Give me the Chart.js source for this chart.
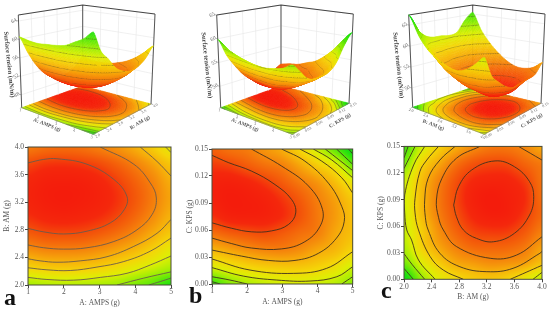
<!DOCTYPE html>
<html>
<head>
<meta charset="utf-8">
<title>Surface tension response surfaces</title>
<script src="https://cdn.jsdelivr.net/npm/chart.js@4"></script>
<style>
html,body{margin:0;padding:0;background:#fff;width:550px;height:312px;overflow:hidden}
canvas{position:absolute;filter:blur(0.3px)}
</style>
</head>
<body>
<script>
// ---------- axis tick values ----------
const ampsTicks = [1, 2, 3, 4, 5];
const amTicks = [2.0, 2.4, 2.8, 3.2, 3.6, 4.0];
const kpsTicks = [0.00, 0.03, 0.06, 0.09, 0.12, 0.15];

// ---------- surface tension (rows: second factor low to high, cols: first factor low to high) ----------
const surfaceAB = [
 [60.6,60.2,60.0,60.2,60.4,60.8,61.8,62.8,64.4],
 [56.8,56.3,56.1,56.2,56.6,57.4,58.4,59.4,60.4],
 [53.6,53.1,53.0,53.1,53.6,54.4,55.4,56.8,58.4],
 [51.3,50.8,50.7,50.8,51.3,52.1,53.2,54.7,56.2],
 [49.9,49.4,49.2,49.4,49.8,50.6,51.8,53.3,55.0],
 [49.3,48.8,48.6,48.8,49.2,50.0,51.2,52.7,54.4],
 [49.5,49.0,48.9,49.0,49.5,50.4,51.6,53.0,54.8],
 [50.6,50.1,50.0,50.2,50.7,51.6,52.8,54.3,56.0],
 [52.6,52.1,52.0,52.2,52.8,53.6,54.8,56.4,58.2]];
const surfaceAC = [
 [59.9,58.3,57.4,56.8,56.4,56.3,56.6,57.1,58.1],
 [56.2,55.5,54.8,54.4,54.2,54.2,54.6,55.3,56.5],
 [53.5,52.9,52.3,51.9,51.8,52.2,53.0,53.6,54.7],
 [51.2,50.7,50.4,50.2,50.6,51.2,51.7,53.0,53.9],
 [49.6,49.0,48.9,49.0,49.5,50.4,51.5,52.6,53.9],
 [48.9,48.6,48.7,49.0,49.7,50.6,51.7,52.8,54.2],
 [49.0,48.9,49.2,49.8,50.6,51.5,52.4,53.8,55.6],
 [49.8,50.0,50.6,51.2,51.7,52.9,54.3,55.7,58.7],
 [50.8,51.3,51.6,52.4,53.2,54.7,56.6,59.0,61.0]];
const surfaceBC = [
 [67.5,62.8,59.9,58.4,57.4,57.0,57.7,59.3,61.2],
 [63.7,60.1,57.5,55.5,54.8,54.2,54.4,55.0,56.8],
 [61.7,57.9,55.3,53.5,52.4,52.2,52.3,53.1,54.9],
 [61.0,57.6,54.3,52.2,50.9,50.5,50.6,51.6,53.3],
 [60.9,56.6,53.5,51.5,49.9,49.1,49.3,50.6,52.4],
 [60.6,56.5,53.3,51.2,49.5,48.9,49.3,50.2,52.7],
 [61.0,56.8,53.8,51.6,50.2,49.8,49.9,50.9,52.9],
 [63.7,58.4,55.6,53.1,51.7,51.2,51.3,52.4,53.3],
 [65.5,60.9,57.9,55.7,54.1,53.2,53.2,53.9,55.5]];

// ---------- contour levels ----------
const levelsAB = [50.8,52.8,54.8,56.8,58.8,60.8,62.8];
const levelsAC = [50.2,51.7,53.2,54.7,56.2,57.7,59.1,60.7];
const levelsBC = [51.3,53.5,55.7,57.9,60.1,62.3,64.5];

// ---------- contour lines ----------
const contoursAB = [
 [[1,3.77],[1.44,3.82],[1.81,3.83],[2.65,3.75],[3.40,3.53],[3.77,3.28],[3.69,3.09],[3.30,2.90],[2.65,2.78],[2.00,2.74],[1.44,2.77],[1,2.82]],
 [[3.02,4],[3.96,3.75],[4.42,3.48],[4.59,3.26],[4.47,3.02],[4.05,2.80],[3.40,2.63],[2.65,2.54],[2.00,2.52],[1.44,2.54],[1,2.58]],
 [[4.14,4],[4.61,3.79],[5,3.58]],
 [[5,2.95],[4.61,2.75],[3.96,2.56],[3.21,2.41],[2.46,2.35],[1.81,2.33],[1.34,2.35],[1,2.38]],
 [[4.85,4],[5,3.92]],
 [[5,2.68],[4.42,2.49],[3.68,2.34],[2.93,2.26],[2.18,2.21],[1.53,2.22],[1,2.25]],
 [[5,2.42],[4.42,2.29],[3.77,2.17],[3.02,2.11],[2.28,2.07],[1.53,2.08],[1,2.11]],
 [[5,2.19],[4.24,2.10],[3.49,2.0]],
 [[5,2.10],[4.70,2.05],[4.38,2.0]]];
const contoursAC = [
 [[1,.143],[1.46,.135],[2.12,.1255],[2.79,.1105],[3.26,.094],[3.38,.079],[3.17,.066],[2.69,.059],[2.12,.058],[1.55,.062],[1,.068]],
 [[2.12,.15],[2.98,.131],[3.74,.109],[4.14,.083],[4.07,.064],[3.64,.047],[2.98,.039],[2.12,.040],[1.55,.045],[1,.051]],
 [[2.98,.15],[3.64,.1365],[4.31,.112],[4.69,.086],[4.76,.0696],[4.54,.051],[4.02,.034],[3.36,.0262],[2.6,.0262],[1.84,.031],[1,.0377]],
 [[3.5,.15],[4.12,.1365],[4.69,.118],[5,.101]],
 [[5,.0359],[4.26,.0174],[3.31,.0118],[2.08,.0155],[1,.0278]],
 [[3.88,.15],[4.4,.138],[5,.118]],
 [[5,.0192],[4.55,.0081],[3.79,.0033],[2.84,.0044],[1.89,.0088],[1,.0182]],
 [[4.22,.15],[5,.126]],
 [[1,.0081],[1.51,.0044],[2.0,0]],
 [[4.69,0],[5,.0081]],
 [[4.54,.15],[5,.133]],
 [[1,.0026],[1.23,0]],
 [[4.88,.15],[5,.1445]]];
const contoursBC = [
 [[2.72,.0838],[2.79,.1045],[2.98,.1233],[3.32,.1336],[3.6,.1271],[3.82,.1102],[3.88,.0932],[3.82,.0726],[3.6,.0519],[3.3,.0424],[3.05,.0462],[2.86,.0557],[2.76,.0707],[2.72,.0838]],
 [[3.10,.15],[2.76,.1366],[2.55,.114],[2.47,.0894],[2.50,.07],[2.57,.0557],[2.76,.037],[3.25,.0237],[3.63,.0273],[4,.048]],
 [[3.66,.15],[4,.1346]],
 [[2.74,.15],[2.52,.1346],[2.35,.114],[2.30,.0894],[2.31,.07],[2.35,.0557],[2.52,.0294],[2.81,.0142],[3.20,.0086],[3.58,.0124],[3.97,.0294],[4,.0315]],
 [[2.50,.15],[2.33,.1346],[2.23,.1215],[2.16,.0914],[2.16,.075],[2.21,.0557],[2.38,.0255],[2.57,.0104],[2.86,0]],
 [[3.54,0],[4,.0158]],
 [[2.30,.15],[2.14,.129],[2.01,.0953],[2.01,.075],[2.04,.0557],[2.11,.0444],[2.21,.0218],[2.45,0]],
 [[3.87,0],[4,.0078]],
 [[2,.125],[2.16,.15]],
 [[2,.029],[2.12,.0165],[2.30,0]],
 [[2,.137],[2.06,.15]],
 [[2,.0123],[2.135,0]]];

// ---------- colour ramp of the surface (fraction of the range) ----------
const rampStops = [[0,244,28,12],[.07,244,40,12],[.1375,243,78,10],[.2625,245,128,11],[.3875,246,174,10],[.5125,245,212,8],[.6375,222,238,4],[.7625,160,238,4],[.8875,88,232,8],[1,24,224,16]];

function ramp(t){
  t=Math.max(0,Math.min(1,t));
  for(let i=1;i<rampStops.length;i++){
    if(t<=rampStops[i][0]){
      const a=rampStops[i-1],b=rampStops[i],f=(t-a[0])/(b[0]-a[0]);
      return [a[1]+(b[1]-a[1])*f,a[2]+(b[2]-a[2])*f,a[3]+(b[3]-a[3])*f];
    }
  }
  const l=rampStops[rampStops.length-1];return [l[1],l[2],l[3]];
}
// smooth reading of the typed grid for display (u,w in 0..1)
function cr(p0,p1,p2,p3,t){return .5*(2*p1+(p2-p0)*t+(2*p0-5*p1+4*p2-p3)*t*t+(3*p1-p0-3*p2+p3)*t*t*t);}
function sample(grid,u,w){
  const n=grid[0].length-1,m=grid.length-1;
  const fx=Math.max(0,Math.min(n-1e-6,u*n)),fy=Math.max(0,Math.min(m-1e-6,w*m));
  const i=Math.floor(fx),j=Math.floor(fy),tx=fx-i,ty=fy-j;
  const row=r=>{const g=grid[Math.max(0,Math.min(m,r))],c=k=>g[Math.max(0,Math.min(n,k))];
    return cr(c(i-1),c(i),c(i+1),c(i+2),tx);};
  return cr(row(j-1),row(j),row(j+1),row(j+2),ty);
}

const SERIF='"Liberation Serif","DejaVu Serif",serif';

// ---------- panel descriptions ----------
const panels=[
 {letter:'a',xName:'A: AMPS (g)',yName:'B: AM (g)',xT:ampsTicks,yT:amTicks,xDec:0,yDec:1,grid:surfaceAB,levels:levelsAB,contours:contoursAB,low:48.6,span:16,lineCol:'#6a5a4c',
  box:{left:0,top:140,w:185,h:172,axisW:28,padR:14,padT:7,axisH:27,yPad:3,xPad:4.5},
  lab:{x:4,y:305},
  view:{left:0,w:185,L:[21.7,107.7],F:[93.3,134.3],R:[151,104],K:[82.7,86],Lt:[18.3,15],Ft:[93.3,27],Rt:[155,14],Kt:[82.7,5],
        zMin:45.2,zMax:65.3,zT:[48,52,56,60,64],zDec:0,uLab:[47,125],wLab:[140,122.7],zLab:[9,64.5]}},
 {letter:'b',xName:'A: AMPS (g)',yName:'C: KPS (g)',xT:ampsTicks,yT:kpsTicks,xDec:0,yDec:2,grid:surfaceAC,levels:levelsAC,contours:contoursAC,low:48.6,span:11.9,lineCol:'#40301e',
  box:{left:185,top:140,w:180,h:172,axisW:27,padR:12.3,padT:9,axisH:28,yPad:1,xPad:5.5},
  lab:{x:189,y:303},
  view:{left:185,w:180,L:[220.7,107.7],F:[292.3,134.3],R:[349,103.3],K:[281,86],Lt:[216.7,15],Ft:[292.3,27],Rt:[353.3,14],Kt:[281,5],
        zMin:45.5,zMax:65,zT:[50,55,60,65],zDec:0,uLab:[245,125],wLab:[340,120.7],zLab:[206.7,65.3]}},
 {letter:'c',xName:'B: AM (g)',yName:'C: KPS (g)',xT:amTicks,yT:kpsTicks,xDec:1,yDec:2,grid:surfaceBC,levels:levelsBC,contours:contoursBC,low:48.9,span:17.66,lineCol:'#40301e',
  box:{left:365,top:140,w:185,h:172,axisW:39,padR:8,padT:6.4,axisH:32.7,yPad:12,xPad:10.5},
  lab:{x:381,y:298},
  view:{left:365,w:185,L:[412.7,107.3],F:[484.3,134.3],R:[541,103.3],K:[472.7,87.3],Lt:[408.7,15],Ft:[484.3,27],Rt:[545,14],Kt:[472.7,5],
        zMin:45.4,zMax:67.4,zT:[50,55,60,65],zDec:0,uLab:[433.3,125],wLab:[531.7,120.7],zLab:[398.3,65.3]}}
];

function makeCanvas(left,top,w,h){
  const c=document.createElement('canvas');
  c.style.left=left+'px';c.style.top=top+'px';c.style.width=w+'px';c.style.height=h+'px';
  c.width=w;c.height=h;document.body.appendChild(c);return c;
}
const fmt=(v,d)=>Number(v).toFixed(d);

// ---------- lower contour plots ----------
function contourChart(p){
  const b=p.box,xMin=p.xT[0],xMax=p.xT[p.xT.length-1],yMin=p.yT[0],yMax=p.yT[p.yT.length-1];
  const fieldPlugin={id:'field',beforeDatasetsDraw(ch){
    const a=ch.chartArea,sx=ch.scales.x,sy=ch.scales.y,W=Math.round(a.right-a.left),H=Math.round(a.bottom-a.top);
    const off=document.createElement('canvas');off.width=W;off.height=H;
    const o=off.getContext('2d'),img=o.createImageData(W,H);
    for(let j=0;j<H;j++){for(let i=0;i<W;i++){
      const xv=sx.getValueForPixel(a.left+i+.5),yv=sy.getValueForPixel(a.top+j+.5);
      const z=sample(p.grid,(xv-xMin)/(xMax-xMin),(yv-yMin)/(yMax-yMin));
      const c=ramp((z-p.low)/p.span),k=(j*W+i)*4;
      img.data[k]=c[0];img.data[k+1]=c[1];img.data[k+2]=c[2];img.data[k+3]=255;
    }}
    o.putImageData(img,0,0);
    ch.ctx.drawImage(off,a.left,a.top,a.right-a.left,a.bottom-a.top);
  },afterDatasetsDraw(ch){
    const a=ch.chartArea,c=ch.ctx;c.save();c.strokeStyle='#4a4a38';c.lineWidth=1;
    c.strokeRect(a.left,a.top,a.right-a.left,a.bottom-a.top);
    c.fillStyle='#111';c.font='bold 24px '+SERIF;c.textBaseline='alphabetic';c.textAlign='left';
    c.fillText(p.letter,p.lab.x-b.left,p.lab.y-b.top);c.restore();
  }};
  const axis=(T,d,name,min,max,isX)=>({
    type:'linear',min,max,position:isX?'bottom':'left',
    afterBuildTicks(ax){ax.ticks=T.map(value=>({value}));},
    afterFit(ax){if(isX)ax.height=b.axisH;else ax.width=b.axisW;},
    grid:{display:true,drawOnChartArea:false,drawTicks:true,tickLength:3,color:'#444',tickColor:'#444'},
    border:{display:false},
    ticks:{autoSkip:false,maxRotation:0,minRotation:0,padding:isX?0:1,color:'#555',font:{family:SERIF,size:7.5},callback:v=>fmt(v,d)},
    title:{display:true,text:name,color:'#555',font:{family:SERIF,size:7.5},padding:isX?{top:0,bottom:b.xPad}:{top:b.yPad,bottom:0}}
  });
  new Chart(makeCanvas(b.left,b.top,b.w,b.h),{
    type:'scatter',
    data:{datasets:p.contours.map(seg=>({data:seg.map(q=>({x:q[0],y:q[1]})),showLine:true,pointRadius:0,borderColor:p.lineCol,borderWidth:.9,tension:.4}))},
    options:{responsive:false,animation:false,events:[],layout:{padding:{top:b.padT,right:b.padR,left:0,bottom:0}},
      plugins:{legend:{display:false},tooltip:{enabled:false},title:{display:false}},
      scales:{x:axis(p.xT,p.xDec,p.xName,xMin,xMax,true),y:axis(p.yT,p.yDec,p.yName,yMin,yMax,false)}},
    plugins:[fieldPlugin]
  });
}

// ---------- upper 3-D views ----------
function surfaceChart(p){
  const v=p.view,xMin=p.xT[0],xMax=p.xT[p.xT.length-1],yMin=p.yT[0],yMax=p.yT[p.yT.length-1];
  const U=x=>(x-xMin)/(xMax-xMin),Wf=y=>(y-yMin)/(yMax-yMin);
  const bil=(A,B,C,D,u,w,k)=>A[k]*(1-u)*(1-w)+B[k]*u*(1-w)+C[k]*u*w+D[k]*(1-u)*w;
  const proj=(u,w,z)=>{
    const f=(z-v.zMin)/(v.zMax-v.zMin),pt=[0,1].map(k=>{
      const a=bil(v.L,v.F,v.R,v.K,u,w,k),c=bil(v.Lt,v.Ft,v.Rt,v.Kt,u,w,k);return a+(c-a)*f;});
    return {x:pt[0],y:pt[1]};
  };
  const line=(pts,color,width,tension)=>({data:pts,showLine:true,pointRadius:0,borderColor:color,borderWidth:width,tension:tension||0});
  const ds=[];
  // frame
  ds.push(line([proj(0,0,v.zMax),proj(0,1,v.zMax),proj(1,1,v.zMax)],'#444',1.1));
  ds.push(line([proj(0,0,v.zMin),proj(0,0,v.zMax)],'#555',1));
  ds.push(line([proj(1,1,v.zMin),proj(1,1,v.zMax)],'#555',1));
  ds.push(line([proj(0,1,v.zMin),proj(0,1,v.zMax)],'#555',1));
  ds.push(line([proj(0,0,v.zMin),proj(1,0,v.zMin),proj(1,1,v.zMin)],'#777',.6));
  // floor contours
  p.contours.forEach(seg=>ds.push(line(seg.map(q=>proj(U(q[0]),Wf(q[1]),v.zMin)),'rgba(80,65,45,.75)',.55,.4)));
  // ticks
  p.xT.forEach(t=>ds.push(line([proj(U(t),0,v.zMin),proj(U(t),-.03,v.zMin)],'#777',.5)));
  p.yT.forEach(t=>ds.push(line([proj(1,Wf(t),v.zMin),proj(1.03,Wf(t),v.zMin)],'#777',.5)));
  v.zT.forEach(t=>ds.push(line([proj(0,0,t),proj(-.025,0,t)],'#777',.5)));
  // wall grid
  const g='#e6e6e6';
  v.zT.forEach(t=>ds.push(line([proj(0,0,t),proj(0,1,t),proj(1,1,t)],g,.6)));
  p.xT.forEach(t=>ds.push(line([proj(U(t),1,v.zMin),proj(U(t),1,v.zMax)],g,.6)));
  p.yT.forEach(t=>ds.push(line([proj(0,Wf(t),v.zMin),proj(0,Wf(t),v.zMax)],g,.6)));

  const N=56;
  const mesh=(ch,flat)=>{
    const c=ch.ctx,sx=ch.scales.x,sy=ch.scales.y;
    const px=(u,w,z)=>{const q=proj(u,w,z);return [sx.getPixelForValue(q.x),sy.getPixelForValue(q.y)];};
    const vals=[];for(let j=0;j<=N;j++){const r=[];for(let i=0;i<=N;i++)r.push(sample(p.grid,i/N,j/N));vals.push(r);}
    const Z=(z)=>flat?v.zMin:z;
    c.save();c.lineJoin='round';
    // far to near: first factor rising, second factor falling
    for(let i=0;i<N;i++){for(let j=N-1;j>=0;j--){
      const z00=vals[j][i],z10=vals[j][i+1],z11=vals[j+1][i+1],z01=vals[j+1][i];
      const u0=i/N,u1=(i+1)/N,w0=j/N,w1=(j+1)/N;
      const a=px(u0,w0,Z(z00)),b=px(u1,w0,Z(z10)),d=px(u1,w1,Z(z11)),e=px(u0,w1,Z(z01));
      const col=ramp(((z00+z10+z11+z01)/4-p.low)/p.span),cs='rgb('+col.map(Math.round).join(',')+')';
      c.fillStyle=cs;c.strokeStyle=cs;c.lineWidth=.5;
      c.beginPath();c.moveTo(a[0],a[1]);c.lineTo(b[0],b[1]);c.lineTo(d[0],d[1]);c.lineTo(e[0],e[1]);c.closePath();c.fill();c.stroke();
      if(!flat){
        const pv=[[u0,w0,z00],[u1,w0,z10],[u1,w1,z11],[u0,w1,z01]];
        p.levels.forEach(L=>{
          const hits=[];
          for(let k=0;k<4;k++){const s=pv[k],t=pv[(k+1)%4];
            if((s[2]-L)*(t[2]-L)<0){const f=(L-s[2])/(t[2]-s[2]);
              hits.push(px(s[0]+(t[0]-s[0])*f,s[1]+(t[1]-s[1])*f,L));}}
          if(hits.length>=2){c.strokeStyle='rgba(70,60,40,.7)';c.lineWidth=.6;c.beginPath();c.moveTo(hits[0][0],hits[0][1]);c.lineTo(hits[1][0],hits[1][1]);c.stroke();}
        });
      }
    }}
    c.restore();
  };
  const meshPlugin={id:'mesh',
    beforeDatasetsDraw(ch){mesh(ch,true);},
    afterDatasetsDraw(ch){
      mesh(ch,false);
      const c=ch.ctx,sx=ch.scales.x,sy=ch.scales.y;
      const text=(s,x,y,rot,font,col)=>{c.save();c.translate(sx.getPixelForValue(x),sy.getPixelForValue(y));c.rotate(rot*Math.PI/180);
        c.font=font;c.fillStyle=col;c.textAlign='center';c.textBaseline='middle';c.fillText(s,0,0);c.restore();};
      const small='3.9px '+SERIF,tc='#666';
      p.xT.forEach(t=>{const q=proj(U(t),0,v.zMin);text(fmt(t,p.xDec),q.x-1.5,q.y+3,20,small,tc);});
      p.yT.forEach(t=>{const q=proj(1,Wf(t),v.zMin);text(fmt(t,p.yDec),q.x+4.5,q.y+1.5,-30,small,tc);});
      v.zT.forEach(t=>{const q=proj(0,0,t);text(fmt(t,v.zDec),q.x-4.5,q.y,-30,'5.5px '+SERIF,'#666');});
      text(p.xName,v.uLab[0],v.uLab[1],21,'bold 5.2px '+SERIF,'#555');
      text(p.yName,v.wLab[0],v.wLab[1],-31,'bold 5.2px '+SERIF,'#555');
      text('Surface tension (mN/m)',v.zLab[0],v.zLab[1],84,'bold 6.5px '+SERIF,'#444');
    }};
  new Chart(makeCanvas(v.left,0,v.w,146),{
    type:'scatter',
    data:{datasets:ds},
    options:{responsive:false,animation:false,events:[],layout:{padding:0},
      plugins:{legend:{display:false},tooltip:{enabled:false},title:{display:false}},
      scales:{x:{type:'linear',display:false,min:v.left,max:v.left+v.w},y:{type:'linear',display:false,min:0,max:146,reverse:true}}},
    plugins:[meshPlugin]
  });
}

panels.forEach(p=>{surfaceChart(p);contourChart(p);});
</script>
</body>
</html>
